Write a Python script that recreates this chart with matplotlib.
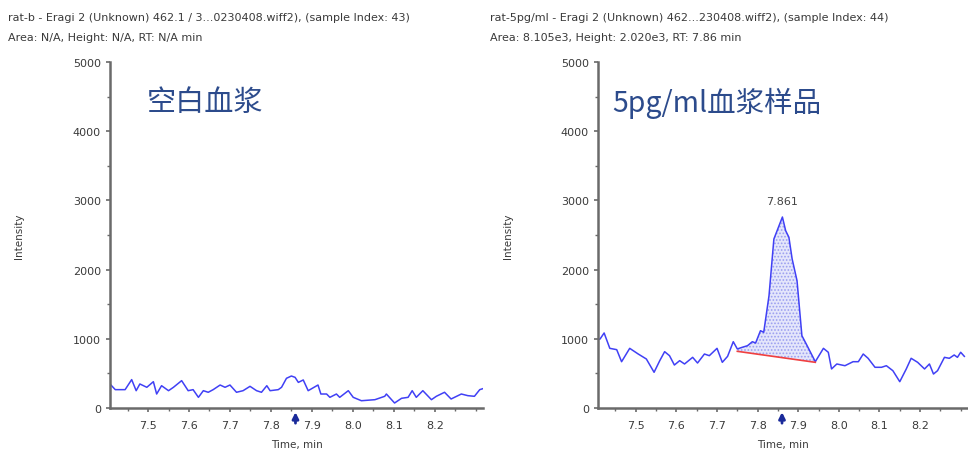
import numpy as np
import matplotlib.pyplot as plt
from matplotlib.ticker import MultipleLocator, FixedLocator

plt.rcParams['font.family'] = ['DejaVu Sans']
plt.rcParams['hatch.linewidth'] = 0.8

# blank plasma chromatogram (time in min, intensity in cps)
t_blank = [7.407, 7.42, 7.444, 7.46, 7.471, 7.48, 7.497, 7.513, 7.521, 7.533,
           7.55, 7.562, 7.582, 7.598, 7.61, 7.623, 7.635, 7.647, 7.659, 7.676,
           7.688, 7.70, 7.716, 7.732, 7.749, 7.765, 7.777, 7.79, 7.798, 7.818,
           7.826, 7.838, 7.85, 7.859, 7.867, 7.879, 7.891, 7.915, 7.922, 7.936,
           7.944, 7.96, 7.968, 7.989, 8.001, 8.021, 8.054, 8.078, 8.082, 8.102,
           8.119, 8.135, 8.145, 8.155, 8.171, 8.192, 8.204, 8.224, 8.24, 8.265,
           8.281, 8.297, 8.31, 8.318]
i_blank = [347, 265, 265, 410, 250, 347, 299, 380, 202, 322,
           250, 299, 395, 250, 265, 154, 250, 227, 265, 332,
           299, 332, 227, 250, 313, 250, 227, 322, 250, 265,
           299, 429, 462, 443, 370, 405, 250, 332, 202, 202,
           154, 202, 154, 250, 154, 105, 120, 169, 202, 72,
           140, 154, 250, 154, 250, 120, 169, 227, 130, 202,
           178, 169, 265, 280]

# 5 pg/ml spiked plasma chromatogram
t_spk = [7.407, 7.412, 7.422, 7.436, 7.453, 7.465, 7.485, 7.506, 7.526, 7.545,
         7.559, 7.571, 7.583, 7.595, 7.608, 7.62, 7.64, 7.652, 7.669, 7.681,
         7.70, 7.713, 7.726, 7.74, 7.75, 7.762, 7.775, 7.787, 7.795, 7.807,
         7.815, 7.828, 7.84, 7.861, 7.869, 7.877, 7.885, 7.897, 7.909, 7.921,
         7.942, 7.962, 7.974, 7.982, 7.995, 8.015, 8.035, 8.048, 8.06, 8.072,
         8.089, 8.105, 8.117, 8.133, 8.15, 8.166, 8.178, 8.194, 8.211, 8.223,
         8.233, 8.243, 8.26, 8.272, 8.284, 8.292, 8.30, 8.309]
i_spk = [990, 997, 1084, 862, 843, 669, 862, 780, 708, 516,
         684, 814, 756, 621, 684, 636, 732, 650, 780, 756,
         862, 660, 746, 958, 853, 877, 900, 958, 939, 1117,
         1094, 1623, 2442, 2760, 2562, 2467, 2153, 1840, 1045, 910,
         669, 862, 805, 564, 636, 611, 669, 669, 780, 718,
         588, 588, 611, 539, 380, 564, 718, 660, 564, 636,
         491, 539, 732, 718, 766, 732, 805, 746]

# integration baseline of the peak
base_t = [7.75, 7.942]
base_i = [819, 660]
peak_rt = 7.861
rt_marker = 7.86

x_ticks = [7.5, 7.6, 7.7, 7.8, 7.9, 8.0, 8.1, 8.2]

titles = [
    ("rat-b - Eragi 2 (Unknown) 462.1 / 3...0230408.wiff2), (sample Index: 43)",
     "Area: N/A, Height: N/A, RT: N/A min"),
    ("rat-5pg/ml - Eragi 2 (Unknown) 462...230408.wiff2), (sample Index: 44)",
     "Area: 8.105e3, Height: 2.020e3, RT: 7.86 min"),
]
names = ["空白血浆", "5pg/ml血浆样品"]

fig = plt.figure(figsize=(9.68, 4.56), dpi=100)
ax1 = fig.add_axes([0.1136, 0.1031, 0.3854, 0.7587])
ax2 = fig.add_axes([0.6178, 0.1031, 0.3822, 0.7587])

trace_col = '#4040f5'
txt_col = '#3a3a3a'

for ax, (l1, l2), x0 in zip([ax1, ax2], titles, [0.008, 0.506]):
    ax.set_xlim(7.407, 8.318)
    ax.set_ylim(0, 5000)
    ax.xaxis.set_major_locator(FixedLocator(x_ticks))
    ax.xaxis.set_minor_locator(MultipleLocator(0.05))
    ax.yaxis.set_major_locator(MultipleLocator(1000))
    ax.yaxis.set_minor_locator(MultipleLocator(500))
    ax.xaxis.set_major_formatter(plt.FuncFormatter(lambda v, p: f"{v:.1f}"))
    for s in ['top', 'right']:
        ax.spines[s].set_visible(False)
    for s in ['left', 'bottom']:
        ax.spines[s].set_color('#6a6a6a')
        ax.spines[s].set_linewidth(1.8)
    ax.tick_params(which='both', colors='#6a6a6a', labelcolor=txt_col, labelsize=8)
    ax.tick_params(which='major', length=3, width=1.2)
    ax.tick_params(which='minor', length=2, width=1)
    ax.tick_params(axis='x', pad=6)
    ax.set_xlabel("Time, min", fontsize=7.5, color=txt_col, labelpad=6)
    ax.set_ylabel("Intensity", fontsize=7.5, color=txt_col)
    ax.yaxis.set_label_coords(-0.23, 0.5)
    fig.text(x0, 1 - 13 / 456, l1, fontsize=8, color=txt_col, va='top')
    fig.text(x0, 1 - 33 / 456, l2, fontsize=8, color=txt_col, va='top')

ax1.plot(t_blank, i_blank, color=trace_col, lw=1.1)
ax2.plot(t_spk, i_spk, color=trace_col, lw=1.1)

# shaded peak area above the baseline
t_arr = np.array(t_spk)
i_arr = np.array(i_spk)
m = (t_arr >= base_t[0]) & (t_arr <= base_t[1])
bl = np.interp(t_arr[m], base_t, base_i)
ax2.fill_between(t_arr[m], bl, i_arr[m], facecolor='#e4e6fb', edgecolor='#9a9ff0',
                 hatch='.....', linewidth=0)
ax2.plot(base_t, base_i, color='#f04040', lw=1.2)
ax2.text(peak_rt, max(i_spk) + 160, f"{peak_rt:.3f}", ha='center', va='bottom',
         fontsize=8, color='#444444')

# retention time markers below the x axis
for ax in [ax1, ax2]:
    ax.annotate('', xy=(rt_marker, -20), xytext=(rt_marker, -260),
                xycoords='data', annotation_clip=False,
                arrowprops=dict(arrowstyle='-|>', color='#1a2a9a', lw=2,
                                mutation_scale=9))

ax1.text(0.1, 0.884, names[0], transform=ax1.transAxes, fontsize=21,
         color='#2c4b8c', family=['Noto Sans CJK SC', 'DejaVu Sans'], va='center')
ax2.text(0.038, 0.884, names[1], transform=ax2.transAxes, fontsize=20.5,
         color='#2c4b8c', family=['Noto Sans CJK SC', 'DejaVu Sans'], va='center')

fig.savefig('out.png', dpi=100)
